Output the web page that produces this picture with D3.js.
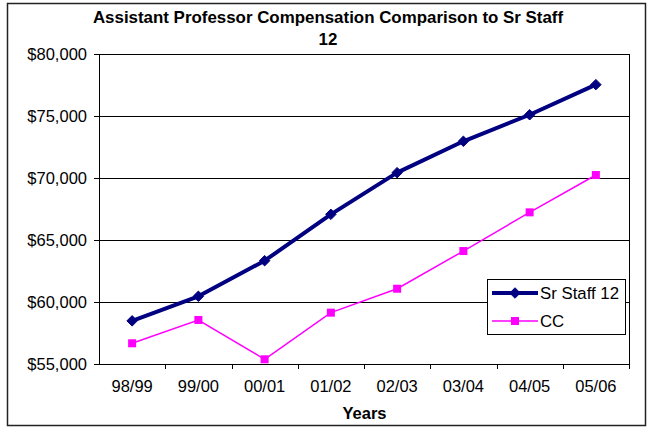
<!DOCTYPE html>
<html>
<head>
<meta charset="utf-8">
<script src="https://cdn.jsdelivr.net/npm/d3@7"></script>
<style>
  html, body { margin: 0; padding: 0; background: #fff; }
  svg { display: block; font-family: "Liberation Sans", Arial, sans-serif; }
</style>
</head>
<body>
<svg id="chart" width="648" height="429"></svg>
<script>
// Academic years on the category axis
const years = ["98/99", "99/00", "00/01", "01/02", "02/03", "03/04", "04/05", "05/06"];
// Annual compensation for each comparison group
const srStaff12 = [58480, 60460, 63330, 67070, 70430, 72960, 75100, 77530];
const cc = [56670, 58550, 55380, 59140, 61070, 64110, 67230, 70240];
// Value-axis ticks
const yTicks = [55000, 60000, 65000, 70000, 75000, 80000];
const seriesNames = ["Sr Staff 12", "CC"];

const svg = d3.select("#chart");
const plot = { left: 99, right: 629, top: 54, bottom: 364 };

const x = d3.scaleBand().domain(years).range([plot.left, plot.right]).padding(0);
const y = d3.scaleLinear().domain([55000, 80000]).range([plot.bottom, plot.top]);
const cx = d => x(d) + x.bandwidth() / 2;

// Outer chart frame
svg.append("rect")
  .attr("x", 7.5).attr("y", 3.5).attr("width", 638).attr("height", 422)
  .attr("fill", "#fff").attr("stroke", "#222").attr("stroke-width", 1.5);

// Horizontal gridlines
svg.append("g")
  .attr("transform", `translate(${plot.left},0)`)
  .call(d3.axisLeft(y).tickValues(yTicks).tickSize(-(plot.right - plot.left)).tickFormat(""))
  .call(g => g.select(".domain").remove())
  .call(g => g.selectAll("line").attr("stroke", "#000").attr("stroke-width", 1));

// Right edge of plot area
svg.append("line")
  .attr("x1", plot.right + 0.5).attr("x2", plot.right + 0.5)
  .attr("y1", plot.top).attr("y2", plot.bottom)
  .attr("stroke", "#000");

// Value axis
svg.append("g")
  .attr("transform", `translate(${plot.left},0)`)
  .call(d3.axisLeft(y).tickValues(yTicks).tickSize(5).tickPadding(7).tickFormat(d3.format("$,")))
  .call(g => g.select(".domain").attr("stroke", "#000"))
  .call(g => g.selectAll("line").attr("stroke", "#000"))
  .call(g => g.selectAll("text").attr("font-size", "16.5px").attr("fill", "#000")
    .attr("font-family", "'Liberation Sans', Arial, sans-serif"));

// Category axis: labels at centres, tick marks on band boundaries
const xAxis = svg.append("g").attr("transform", `translate(0,${plot.bottom})`);
xAxis.call(d3.axisBottom(x).tickSize(0).tickPadding(16))
  .call(g => g.select(".domain").attr("stroke", "#000"))
  .call(g => g.selectAll("text").attr("font-size", "16.5px").attr("fill", "#000")
    .attr("font-family", "'Liberation Sans', Arial, sans-serif"));
xAxis.selectAll(".bound")
  .data(years.slice(1).concat(["end"]))
  .join("line")
  .attr("class", "bound")
  .attr("x1", (d, i) => Math.round(i < years.length - 1 ? x(d) : plot.right) + 0.5)
  .attr("x2", (d, i) => Math.round(i < years.length - 1 ? x(d) : plot.right) + 0.5)
  .attr("y1", 0).attr("y2", 5)
  .attr("stroke", "#000");

// Series lines
const line = d3.line().x((d, i) => cx(years[i])).y(d => y(d));

svg.append("path").datum(cc)
  .attr("d", line).attr("fill", "none")
  .attr("stroke", "#ff00ff").attr("stroke-width", 1.5);

svg.append("path").datum(srStaff12)
  .attr("d", line).attr("fill", "none")
  .attr("stroke", "#000080").attr("stroke-width", 4).attr("stroke-linejoin", "round");

// Markers
const diamond = d3.symbol().type(d3.symbolDiamond2).size(70);
svg.append("g").selectAll("path")
  .data(srStaff12).join("path")
  .attr("transform", (d, i) => `translate(${cx(years[i])},${y(d)})`)
  .attr("d", diamond)
  .attr("fill", "#000080").attr("stroke", "#000080").attr("stroke-width", 1);

svg.append("g").selectAll("rect")
  .data(cc).join("rect")
  .attr("x", (d, i) => cx(years[i]) - 4)
  .attr("y", d => y(d) - 4)
  .attr("width", 8).attr("height", 8)
  .attr("fill", "#ff00ff");

// Legend
const legend = svg.append("g").attr("transform", "translate(487,279)");
legend.append("rect")
  .attr("x", 0.5).attr("y", 0.5).attr("width", 138).attr("height", 55)
  .attr("fill", "#fff").attr("stroke", "#000");
const legendRows = [
  { name: seriesNames[0], color: "#000080", width: 4, y: 14 },
  { name: seriesNames[1], color: "#ff00ff", width: 1.5, y: 42 }
];
legendRows.forEach((r, i) => {
  legend.append("line")
    .attr("x1", 5).attr("x2", 51).attr("y1", r.y).attr("y2", r.y)
    .attr("stroke", r.color).attr("stroke-width", r.width);
  if (i === 0) {
    legend.append("path")
      .attr("transform", `translate(28,${r.y})`)
      .attr("d", diamond).attr("fill", r.color).attr("stroke", r.color);
  } else {
    legend.append("rect")
      .attr("x", 24).attr("y", r.y - 4).attr("width", 8).attr("height", 8)
      .attr("fill", r.color);
  }
  legend.append("text")
    .attr("x", 53).attr("y", r.y + 6)
    .attr("font-size", "16.8px").attr("fill", "#000")
    .text(r.name);
});

// Titles
const titleX = 328;
const title = svg.append("text")
  .attr("x", titleX).attr("text-anchor", "middle")
  .attr("font-size", "16.9px").attr("font-weight", "bold").attr("fill", "#000");
title.append("tspan").attr("x", titleX).attr("y", 23)
  .text("Assistant Professor Compensation Comparison to Sr Staff");
title.append("tspan").attr("x", titleX).attr("y", 45).text("12");

svg.append("text")
  .attr("x", 364.5).attr("y", 419)
  .attr("text-anchor", "middle")
  .attr("font-size", "16.5px").attr("font-weight", "bold").attr("fill", "#000")
  .text("Years");
</script>
</body>
</html>
